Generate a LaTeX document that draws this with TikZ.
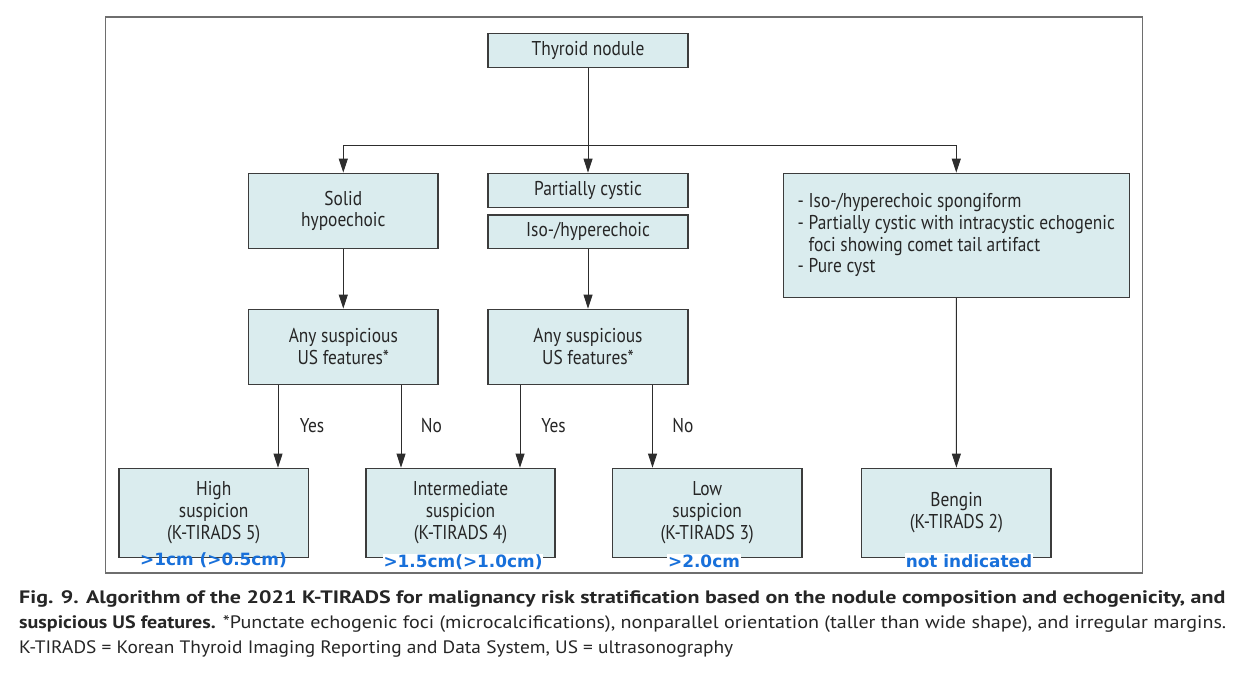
\documentclass[tikz,border=0pt]{standalone}
\usepackage{fontspec}
\usepackage{graphicx}
\setmainfont{PT Sans}[FakeStretch=0.87]
\newfontfamily\bluefont{DejaVu Sans}
\usetikzlibrary{arrows.meta}
\definecolor{boxfill}{RGB}{218,236,238}
\definecolor{boxline}{RGB}{60,60,60}
\definecolor{frameline}{RGB}{110,110,110}
\definecolor{linkc}{RGB}{45,45,45}
\definecolor{sizeblue}{RGB}{24,112,218}
\newcommand\bxfont{\fontsize{20}{21.7}\selectfont}
\begin{document}
\begin{tikzpicture}[x=1pt,y=-1pt,
  box/.style={draw=boxline, line width=1.4pt, fill=boxfill, inner sep=0pt, align=center, font=\bxfont, text=black!85},
  link/.style={draw=linkc, line width=0.9pt, -{Triangle[length=14pt,width=9pt]}},
  lbl/.style={inner sep=0pt, anchor=base, font=\bxfont, text=black!85},
  sizetxt/.style={inner sep=1pt, anchor=base, font=\bluefont\bfseries\fontsize{16.9}{18}\selectfont, text=sizeblue},
  captxt/.style={inner sep=0pt, anchor=base west, text=black!85}]
\useasboundingbox[fill=white] (0,0) rectangle (1241,674);
\node[draw=frameline, line width=1.4pt, minimum width=1037pt, minimum height=556pt, inner sep=0pt] (frame) at (624.1,294.85) {};
% boxes
\node[box, minimum width=200pt, minimum height=34pt] (tn) at (588,50.3) {Thyroid nodule};
\node[box, minimum width=189.4pt, minimum height=75.4pt] (solid) at (343.3,211) {Solid\\hypoechoic};
\node[box, minimum width=200pt, minimum height=34pt] (pc) at (588,190.3) {Partially cystic};
\node[box, minimum width=200pt, minimum height=33.7pt] (iso) at (588,231.8) {Iso-/hyperechoic};
\node[box, minimum width=346pt, minimum height=124pt, align=left] (spg) at (956.3,235.3) {- Iso-/hyperechoic spongiform\\- Partially cystic with intracystic echogenic\\\phantom{- }foci showing comet tail artifact\\- Pure cyst};
\node[box, minimum width=189.4pt, minimum height=75pt] (as1) at (343.3,346.8) {Any suspicious\\US features*};
\node[box, minimum width=200pt, minimum height=75pt] (as2) at (588,346.8) {Any suspicious\\US features*};
\node[box, minimum width=189.3pt, minimum height=89pt] (high) at (213.7,512.8) {High\\suspicion\\(K-TIRADS 5)};
\node[box, minimum width=189.3pt, minimum height=89pt] (inter) at (460.5,512.8) {Intermediate\\suspicion\\(K-TIRADS 4)};
\node[box, minimum width=189.3pt, minimum height=89pt] (low) at (707.2,512.8) {Low\\suspicion\\(K-TIRADS 3)};
\node[box, minimum width=189.3pt, minimum height=89pt] (ben) at (956.4,512.8) {Bengin\\(K-TIRADS 2)};
% helper coordinates
\coordinate (j) at (588,145);
\coordinate (c1) at (278,0);
\coordinate (c2) at (401,0);
\coordinate (c3) at (520,0);
\coordinate (c4) at (652.5,0);
% connectors
\draw[link] (tn) -- (pc);
\draw[link] (j) -| (solid.north);
\draw[link] (j) -| (spg.north);
\draw[link] (solid) -- (as1);
\draw[link] (iso) -- (as2);
\draw[link] (as1.south -| c1) -- (high.north -| c1);
\draw[link] (as1.south -| c2) -- (inter.north -| c2);
\draw[link] (as2.south -| c3) -- (inter.north -| c3);
\draw[link] (as2.south -| c4) -- (low.north -| c4);
\draw[link] (spg) -- (ben);
% labels
\node[lbl] (yes1) at (312,432.7) {Yes};
\node[lbl] (no1) at (431.5,432.7) {No};
\node[lbl] (yes2) at (553.5,432.7) {Yes};
\node[lbl] (no2) at (683,432.7) {No};
% size thresholds
\node[sizetxt] (s5) at (213.5,565) {>1cm (>0.5cm)};
\node[sizetxt, fill=white] (s4) at (463,567.5) {>1.5cm(>1.0cm)};
\node[sizetxt, fill=white] (s3) at (704,567.5) {>2.0cm};
\node[sizetxt, fill=white] (s2) at (969,567) {not indicated};
% caption
\node[captxt] (cap1) at (19,603.3) {\resizebox{1206pt}{\height}{\fontsize{18}{20}\selectfont\bfseries Fig. 9. Algorithm of the 2021 K-TIRADS for malignancy risk stratification based on the nodule composition and echogenicity, and}};
\node[captxt] (cap2) at (19,628.3) {\resizebox{1207pt}{\height}{\fontsize{18}{20}\selectfont\textbf{suspicious US features.} *Punctate echogenic foci (microcalcifications), nonparallel orientation (taller than wide shape), and irregular margins.}};
\node[captxt] (cap3) at (19,653.3) {\resizebox{714pt}{\height}{\fontsize{18}{20}\selectfont K-TIRADS = Korean Thyroid Imaging Reporting and Data System, US = ultrasonography}};
\end{tikzpicture}
\end{document}
